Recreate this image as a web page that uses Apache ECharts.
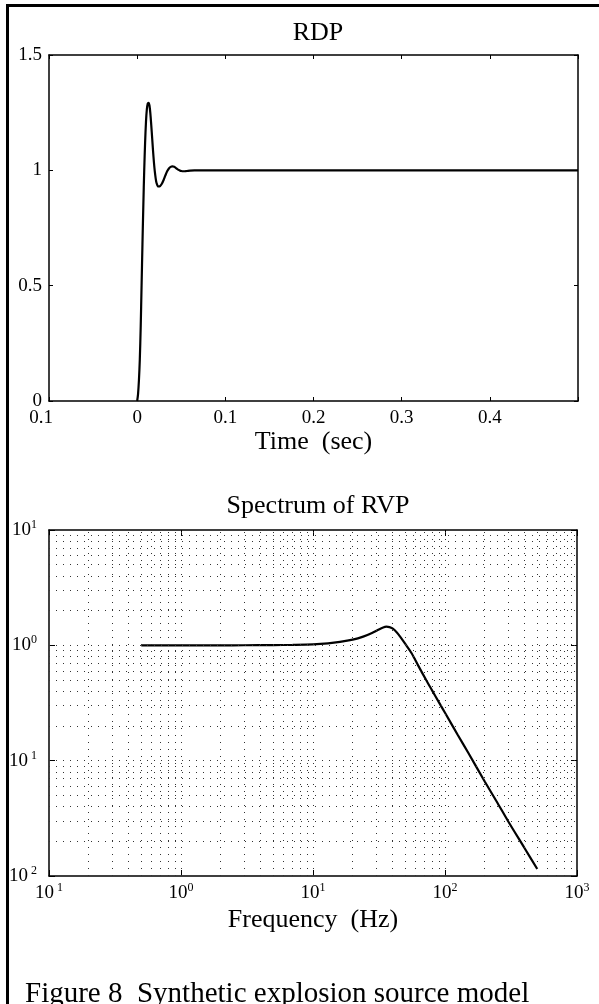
<!DOCTYPE html>
<html><head><meta charset="utf-8">
<script src="https://cdn.jsdelivr.net/npm/echarts@6/dist/echarts.min.js"></script>
<style>html,body{margin:0;padding:0;background:#fff}#c{width:599px;height:1004px}</style>
</head><body><div id="c"></div>
<script>
// ---- data ----
const rdpTime = [0, 0.001, 0.002, 0.003, 0.004, 0.005, 0.006, 0.007, 0.008, 0.009, 0.010, 0.011, 0.012, 0.013, 0.014, 0.015, 0.016, 0.017, 0.018, 0.019, 0.020, 0.021, 0.022, 0.024, 0.026, 0.028, 0.030, 0.032, 0.034, 0.036, 0.038, 0.040, 0.042, 0.044, 0.046, 0.048, 0.050, 0.053, 0.056, 0.060, 0.065, 0.070, 0.500];
const rdpValue = [0, 0.03, 0.09, 0.18, 0.32, 0.50, 0.68, 0.85, 1.00, 1.12, 1.21, 1.265, 1.29, 1.293, 1.28, 1.245, 1.195, 1.14, 1.085, 1.035, 0.995, 0.965, 0.945, 0.93, 0.932, 0.942, 0.958, 0.978, 0.996, 1.008, 1.015, 1.017, 1.015, 1.01, 1.004, 1.0, 0.997, 0.996, 0.997, 0.999, 1.0, 1.0, 1.0];
const specFreq = [0.5, 1, 2, 3, 5, 7, 10, 13, 16, 20, 24, 28, 31, 34, 36, 38, 40, 43, 46, 50, 56, 63, 72, 80, 90, 100, 125, 150, 200, 250, 300, 400, 500];
const specAmp = [1.0, 1.0, 1.0, 1.002, 1.005, 1.01, 1.02, 1.04, 1.07, 1.12, 1.19, 1.28, 1.36, 1.43, 1.45, 1.44, 1.40, 1.30, 1.18, 1.03, 0.85, 0.66, 0.50, 0.405, 0.32, 0.26, 0.167, 0.117, 0.066, 0.043, 0.030, 0.0175, 0.0115];
const timeTickLabels = ['0.1', '0', '0.1', '0.2', '0.3', '0.4', ''];
const rdpTickLabels = ['0', '0.5', '1', '1.5'];
const freqTickExp = [' 1', '0', '1', '2', '3'];   // decades 10^-1 .. 10^3 (minus sign lost in original)
const ampTickExp = [' 2', ' 1', '0', '1'];        // decades 10^-2 .. 10^1

const FONT = 'Liberation Serif';
const chart = echarts.init(document.getElementById('c'), null, {renderer: 'canvas'});

const supRich = {
  b: {fontSize: 19, lineHeight: 22, fontFamily: FONT, color: '#000'},
  s: {fontSize: 12, lineHeight: 12, fontFamily: FONT, color: '#000', verticalAlign: 'top'}
};
function supLabel(v, exps, firstExp) {
  const e = Math.round(Math.log10(v));
  const s = exps[e - firstExp];
  return s === undefined ? '' : '{b|10}{s|' + s + '}';
}

// minor grid positions for log axes
const gridX = [], gridY = [];
for (let d = -1; d < 3; d++) for (let m = 1; m <= 9; m++) { const v = m * Math.pow(10, d); if (v > 0.1) gridX.push(+v.toPrecision(3)); }
for (let d = -2; d < 1; d++) for (let m = 1; m <= 9; m++) { const v = m * Math.pow(10, d); if (v > 0.01) gridY.push(+v.toPrecision(3)); }
const gridLines = gridX.map(v => ({xAxis: v})).concat(gridY.map(v => ({yAxis: v})));

const axLine = {show: true, onZero: false, lineStyle: {color: '#000', width: 1.5}};
const tickIn = (len) => ({show: true, inside: true, length: len, lineStyle: {color: '#000', width: 1}});
const lblStyle = {color: '#000', fontFamily: FONT, fontSize: 19};

const option = {
  animation: false,
  backgroundColor: '#fff',
  title: [
    {text: 'RDP', left: 313, top: 15, textAlign: 'center', textStyle: {fontFamily: FONT, fontSize: 26, fontWeight: 'normal', color: '#000'}},
    {text: 'Spectrum of RVP', left: 313, top: 488, textAlign: 'center', textStyle: {fontFamily: FONT, fontSize: 26, fontWeight: 'normal', color: '#000'}},
    {text: 'Figure 8  Synthetic explosion source model', left: 20, top: 975, textStyle: {fontFamily: FONT, fontSize: 29, fontWeight: 'normal', color: '#000'}}
  ],
  graphic: [
    {type: 'line', shape: {x1: 7.5, y1: 4, x2: 7.5, y2: 1004}, style: {stroke: '#000', lineWidth: 3}},
    {type: 'line', shape: {x1: 6, y1: 5.5, x2: 599, y2: 5.5}, style: {stroke: '#000', lineWidth: 3}}
  ],
  grid: [
    {left: 49, right: 21, top: 55, height: 346, containLabel: false},
    {left: 49, right: 22, top: 530, height: 346, containLabel: false}
  ],
  xAxis: [
    {type: 'value', gridIndex: 0, min: -0.1, max: 0.5, interval: 0.1, position: 'bottom',
      axisLine: axLine, axisTick: tickIn(4), splitLine: {show: false},
      axisLabel: Object.assign({}, lblStyle, {margin: 8, rich: {p: {fontFamily: FONT, fontSize: 19, color: '#000', padding: [0, 16, 0, 0]}},
        formatter: (v) => { const i = Math.round((v + 0.1) / 0.1); const t = timeTickLabels[i] || ''; return i === 0 ? '{p|' + t + '}' : t; }}),
      name: 'Time  (sec)', nameLocation: 'middle', nameGap: 23, nameTextStyle: {fontFamily: FONT, fontSize: 26, color: '#000', verticalAlign: 'top'}},
    {type: 'value', gridIndex: 0, min: -0.1, max: 0.5, interval: 0.1, position: 'top',
      axisLine: axLine, axisTick: tickIn(4), axisLabel: {show: false}, splitLine: {show: false}},
    {type: 'log', logBase: 10, gridIndex: 1, min: 0.1, max: 1000, position: 'bottom',
      axisLine: axLine, axisTick: tickIn(6), splitLine: {show: false},
      axisLabel: {margin: 6, rich: supRich, formatter: (v) => supLabel(v, freqTickExp, -1)},
      name: 'Frequency  (Hz)', nameLocation: 'middle', nameGap: 31, nameTextStyle: {fontFamily: FONT, fontSize: 26, color: '#000', verticalAlign: 'top'}},
    {type: 'log', logBase: 10, gridIndex: 1, min: 0.1, max: 1000, position: 'top',
      axisLine: axLine, axisTick: tickIn(6), axisLabel: {show: false}, splitLine: {show: false}}
  ],
  yAxis: [
    {type: 'value', gridIndex: 0, min: 0, max: 1.5, interval: 0.5, position: 'left',
      axisLine: axLine, axisTick: tickIn(4), splitLine: {show: false},
      axisLabel: Object.assign({}, lblStyle, {margin: 7, formatter: (v) => rdpTickLabels[Math.round(v / 0.5)] || ''})},
    {type: 'value', gridIndex: 0, min: 0, max: 1.5, interval: 0.5, position: 'right',
      axisLine: axLine, axisTick: tickIn(4), axisLabel: {show: false}, splitLine: {show: false}},
    {type: 'log', logBase: 10, gridIndex: 1, min: 0.01, max: 10, position: 'left',
      axisLine: axLine, axisTick: tickIn(6), splitLine: {show: false},
      axisLabel: {margin: 12, rich: supRich, formatter: (v) => supLabel(v, ampTickExp, -2)}},
    {type: 'log', logBase: 10, gridIndex: 1, min: 0.01, max: 10, position: 'right',
      axisLine: axLine, axisTick: tickIn(6), axisLabel: {show: false}, splitLine: {show: false}}
  ],
  series: [
    {type: 'line', xAxisIndex: 0, yAxisIndex: 0, showSymbol: false, smooth: 0.3,
      lineStyle: {color: '#000', width: 2.2},
      data: rdpTime.map((t, i) => [t, rdpValue[i]])},
    {type: 'line', xAxisIndex: 2, yAxisIndex: 2, showSymbol: false, smooth: 0.3,
      lineStyle: {color: '#000', width: 2.2},
      data: specFreq.map((f, i) => [f, specAmp[i]]),
      markLine: {silent: true, symbol: ['none', 'none'], label: {show: false}, animation: false,
        lineStyle: {type: [1, 6], color: '#333', width: 1}, emphasis: {disabled: true},
        data: gridLines}}
  ]
};
chart.setOption(option);
</script>
</body></html>
